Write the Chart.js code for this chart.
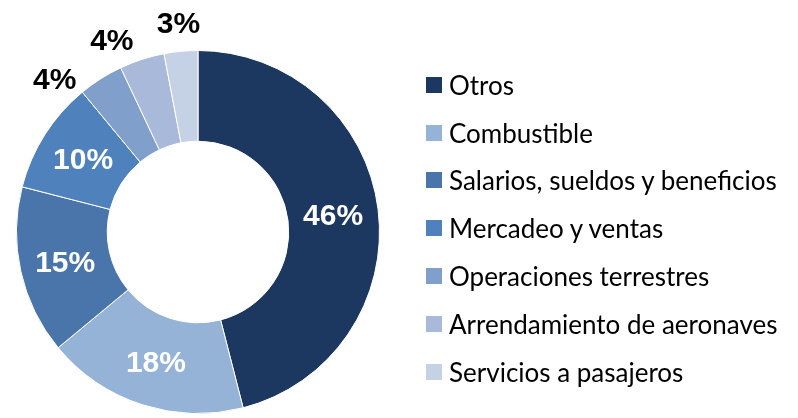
<!DOCTYPE html>
<html>
<head>
<meta charset="utf-8">
<script src="https://cdn.jsdelivr.net/npm/chart.js@4/dist/chart.umd.min.js"></script>
<style>
  html, body { margin: 0; padding: 0; background: #ffffff; }
  #wrap { position: relative; width: 798px; height: 418px; overflow: hidden; }
  #legend { position: absolute; left: 426px; top: 61px; font-family: Lato, "Open Sans", sans-serif; font-size: 26px; color: #000; }
  .row { display: flex; align-items: center; height: 47.8px; white-space: nowrap; }
  .dot { display: inline-block; width: 16px; height: 16px; margin-right: 7px; }
</style>
</head>
<body>
<div id="wrap">
  <canvas id="chart" width="798" height="418"></canvas>
  <div id="legend"></div>
</div>
<script>
const categories = ["Otros", "Combustible", "Salarios, sueldos y beneficios", "Mercadeo y ventas", "Operaciones terrestres", "Arrendamiento de aeronaves", "Servicios a pasajeros"]
const shares = [46, 18, 15, 10, 4, 4, 3]
const colours = ["#1c3860", "#95b3d7", "#4a75ab", "#4f81bd", "#819fcb", "#a8b9d9", "#c5d1e5"]

// slices this small get their label outside the ring
const outsideBelow = 5

const percentLabels = {
  id: "percentLabels",
  afterDatasetsDraw(chart) {
    const { ctx } = chart
    const meta = chart.getDatasetMeta(0)
    const total = shares.reduce((sum, v) => sum + v, 0)

    ctx.save()
    ctx.font = "bold 30px 'Liberation Sans', Arial, sans-serif"
    ctx.textAlign = "center"
    ctx.textBaseline = "middle"

    // outside labels: keep them apart by a minimum angle, pushing counter-clockwise
    const minGap = 19 * Math.PI / 180
    const outside = []
    meta.data.forEach((arc, index) => {
      if (shares[index] < outsideBelow) outside.push(index)
    })
    const angles = {}
    for (let i = outside.length - 1; i >= 0; i--) {
      const arc = meta.data[outside[i]]
      let mid = (arc.startAngle + arc.endAngle) / 2
      if (i < outside.length - 1) {
        mid = Math.min(mid, angles[outside[i + 1]] - minGap)
      }
      angles[outside[i]] = mid
    }

    meta.data.forEach((arc, index) => {
      const text = Math.round(shares[index] / total * 100) + "%"
      if (shares[index] < outsideBelow) {
        const r = arc.outerRadius + 27
        const a = angles[index]
        ctx.fillStyle = "#000000"
        ctx.fillText(text, arc.x + Math.cos(a) * r, arc.y + Math.sin(a) * r)
      } else {
        const pos = arc.tooltipPosition()
        ctx.fillStyle = "#ffffff"
        ctx.fillText(text, pos.x, pos.y + 2)
      }
    })
    ctx.restore()
  }
}

new Chart(document.getElementById("chart"), {
  type: "doughnut",
  data: {
    labels: categories,
    datasets: [{
      data: shares,
      backgroundColor: colours,
      borderColor: "#ffffff",
      borderWidth: 1
    }]
  },
  options: {
    responsive: false,
    animation: false,
    cutout: "50%",
    layout: { padding: { left: 16, right: 418, top: 50, bottom: 4 } },
    plugins: {
      legend: { display: false },
      tooltip: { enabled: false }
    }
  },
  plugins: [percentLabels]
})

const legend = document.getElementById("legend")
categories.forEach((name, index) => {
  const row = document.createElement("div")
  row.className = "row"
  const dot = document.createElement("span")
  dot.className = "dot"
  dot.style.backgroundColor = colours[index]
  row.appendChild(dot)
  const label = document.createElement("span")
  label.textContent = name
  row.appendChild(label)
  legend.appendChild(row)
})
</script>
</body>
</html>
